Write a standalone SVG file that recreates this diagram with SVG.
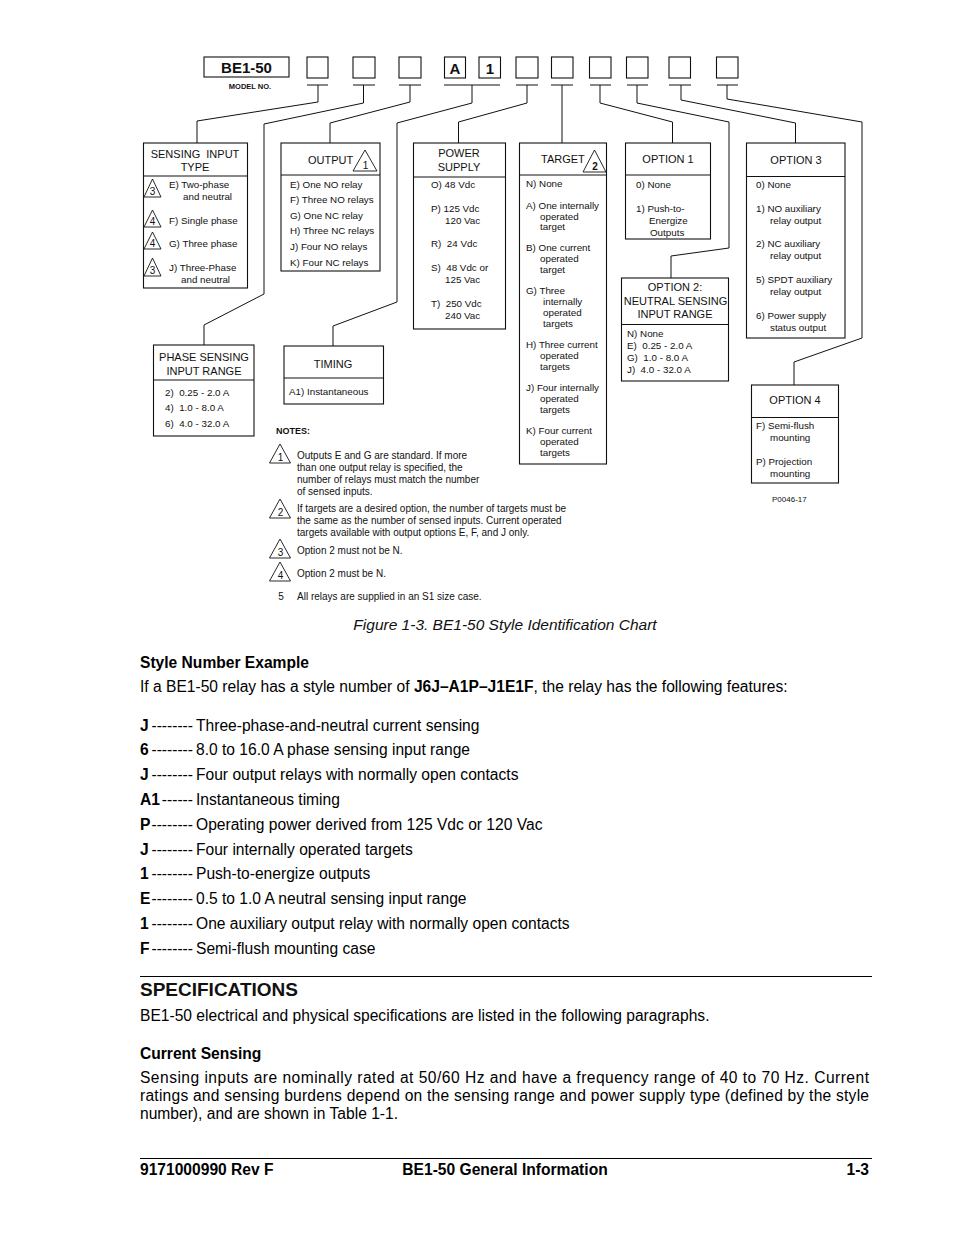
<svg xmlns="http://www.w3.org/2000/svg" width="954" height="1235" viewBox="0 0 954 1235">
<style>
text{font-family:"Liberation Sans",Arial,sans-serif;fill:#111;white-space:pre}
.box{fill:none;stroke:#111;stroke-width:1.1}
.ln{fill:none;stroke:#111;stroke-width:1}
.tri{fill:#fff;stroke:#111;stroke-width:0.9}
.h{font-size:11px;text-anchor:middle}
.i{font-size:9.8px}
.n{font-size:10px}
.tn{font-size:10px;text-anchor:middle}
.b{font-size:15.6px;fill:#000}
.bb{font-size:15.6px;font-weight:bold;fill:#000}
</style>
<rect width="954" height="1235" fill="#fff"/>

<g id="model">
<rect class="box" x="204" y="57" width="85" height="20"/>
<text x="246.5" y="73" font-size="15" font-weight="bold" text-anchor="middle">BE1-50</text>
<text x="250" y="89" font-size="7.5" font-weight="bold" text-anchor="middle">MODEL NO.</text>
<rect class="box" x="307" y="57" width="21" height="21"/>
<rect class="box" x="353" y="57" width="22" height="21"/>
<rect class="box" x="399" y="57" width="22" height="21"/>
<rect class="box" x="444.5" y="57" width="21" height="21"/>
<text x="455" y="74" font-size="15" font-weight="bold" text-anchor="middle">A</text>
<rect class="box" x="479" y="57" width="21.5" height="21"/>
<text x="490" y="74" font-size="15" font-weight="bold" text-anchor="middle">1</text>
<rect class="box" x="516" y="57" width="22" height="21"/>
<rect class="box" x="551.5" y="57" width="21.5" height="21"/>
<rect class="box" x="589.5" y="57" width="21.5" height="21"/>
<rect class="box" x="626.5" y="57" width="21.5" height="21"/>
<rect class="box" x="669" y="57" width="21.5" height="21"/>
<rect class="box" x="716.5" y="57" width="21.5" height="21"/>
</g>

<g id="connectors">
<path class="ln" d="M307,85H328M353,85H375M399,85H421M444,85H500M516,85H538M551,85H573M590,85H611M627,85H648M669,85H691M717,85H738"/>
<path class="ln" d="M318,85V102L197,121V143"/>
<path class="ln" d="M363.5,85V103L264,124V294L204,325V345"/>
<path class="ln" d="M410,85V102L330,123V143"/>
<path class="ln" d="M472,85V103L397,123V302L333,326V346"/>
<path class="ln" d="M527,85V103L458.5,122V143"/>
<path class="ln" d="M562,85V143"/>
<path class="ln" d="M600,85V103L672.5,122V143"/>
<path class="ln" d="M637,85V103L729,122V248L671,256V278"/>
<path class="ln" d="M681,85V100L795.5,123V143"/>
<path class="ln" d="M727,85V99L862,122V338L794,362V385"/>
</g>

<g id="sensing-input-type">
<rect class="box" x="143.5" y="143" width="104" height="145"/>
<line class="ln" x1="143.5" y1="176" x2="247.5" y2="176"/>
<text class="h" x="195" y="158">SENSING  INPUT</text>
<text class="h" x="195" y="171">TYPE</text>
<polygon class="tri" points="152.5,179 161,197 144,197"/>
<text class="tn" x="152.5" y="195">3</text>
<polygon class="tri" points="152.5,210 161,227 144,227"/>
<text class="tn" x="152.5" y="225">4</text>
<polygon class="tri" points="152.5,232 161,249 144,249"/>
<text class="tn" x="152.5" y="247">4</text>
<polygon class="tri" points="152.5,258 161,276 144,276"/>
<text class="tn" x="152.5" y="274">3</text>
<text class="i" x="169" y="187.5">E) Two-phase</text>
<text class="i" x="183" y="199.5">and neutral</text>
<text class="i" x="169" y="223.5">F) Single phase</text>
<text class="i" x="169" y="246.5">G) Three phase</text>
<text class="i" x="169" y="270.5">J) Three-Phase</text>
<text class="i" x="181" y="282.5">and neutral</text>
</g>

<g id="output">
<rect class="box" x="281" y="143" width="99" height="128"/>
<line class="ln" x1="281" y1="175" x2="380" y2="175"/>
<text x="308" y="164" font-size="11">OUTPUT</text>
<polygon class="tri" points="365,150 377,171 353,171"/>
<text class="tn" x="365.5" y="169">1</text>
<text class="i" x="290" y="187.5">E) One NO relay</text>
<text class="i" x="290" y="203">F) Three NO relays</text>
<text class="i" x="290" y="218.5">G) One NC relay</text>
<text class="i" x="290" y="234">H) Three NC relays</text>
<text class="i" x="290" y="249.5">J) Four NO relays</text>
<text class="i" x="290" y="265.5">K) Four NC relays</text>
</g>

<g id="power-supply">
<rect class="box" x="413.5" y="143" width="92" height="186"/>
<line class="ln" x1="413.5" y1="177" x2="505.5" y2="177"/>
<text class="h" x="459" y="157">POWER</text>
<text class="h" x="459" y="171">SUPPLY</text>
<text class="i" x="431" y="187.5">O) 48 Vdc</text>
<text class="i" x="431" y="211.5">P) 125 Vdc</text>
<text class="i" x="445" y="223.5">120 Vac</text>
<text class="i" x="431" y="246.5">R)  24 Vdc</text>
<text class="i" x="431" y="270.5">S)  48 Vdc or</text>
<text class="i" x="445" y="282.5">125 Vac</text>
<text class="i" x="431" y="306.5">T)  250 Vdc</text>
<text class="i" x="445" y="318.5">240 Vac</text>
</g>

<g id="target">
<rect class="box" x="519.5" y="143" width="87" height="321"/>
<line class="ln" x1="519.5" y1="175" x2="606.5" y2="175"/>
<text x="541" y="163" font-size="11">TARGET</text>
<polygon class="tri" points="594.5,150 606,172 583,172"/>
<text class="tn" x="595" y="170" font-weight="bold">2</text>
<text class="i" x="526" y="186.5">N) None</text>
<text class="i" x="526" y="208.5">A) One internally</text>
<text class="i" x="540" y="219.5">operated</text>
<text class="i" x="540" y="229.5">target</text>
<text class="i" x="526" y="250.5">B) One current</text>
<text class="i" x="540" y="261.5">operated</text>
<text class="i" x="540" y="272.5">target</text>
<text class="i" x="526" y="293.5">G) Three</text>
<text class="i" x="543" y="304.5">internally</text>
<text class="i" x="543" y="315.5">operated</text>
<text class="i" x="543" y="326.5">targets</text>
<text class="i" x="526" y="347.5">H) Three current</text>
<text class="i" x="540" y="358.5">operated</text>
<text class="i" x="540" y="369.5">targets</text>
<text class="i" x="526" y="390.5">J) Four internally</text>
<text class="i" x="540" y="401.5">operated</text>
<text class="i" x="540" y="412.5">targets</text>
<text class="i" x="526" y="433.5">K) Four current</text>
<text class="i" x="540" y="444.5">operated</text>
<text class="i" x="540" y="455.5">targets</text>
</g>

<g id="option1">
<rect class="box" x="625.5" y="143" width="85" height="96"/>
<line class="ln" x1="625.5" y1="175" x2="710.5" y2="175"/>
<text class="h" x="668" y="163">OPTION 1</text>
<text class="i" x="636" y="187.5">0) None</text>
<text class="i" x="636" y="211.5">1) Push-to-</text>
<text class="i" x="649" y="223.5">Energize</text>
<text class="i" x="650" y="235.5">Outputs</text>
</g>

<g id="option2">
<rect class="box" x="621.5" y="278" width="107" height="103"/>
<line class="ln" x1="621.5" y1="324.5" x2="728.5" y2="324.5"/>
<text class="h" x="675" y="291">OPTION 2:</text>
<text class="h" x="675.5" y="304.5" font-size="10.8">NEUTRAL SENSING</text>
<text class="h" x="675" y="318">INPUT RANGE</text>
<text class="i" x="627" y="336.5">N) None</text>
<text class="i" x="627" y="348.5">E)  0.25 - 2.0 A</text>
<text class="i" x="627" y="360.5">G)  1.0 - 8.0 A</text>
<text class="i" x="627" y="372.5">J)  4.0 - 32.0 A</text>
</g>

<g id="option3">
<rect class="box" x="746.5" y="143" width="98.5" height="195"/>
<line class="ln" x1="746.5" y1="176.5" x2="845" y2="176.5"/>
<text class="h" x="796" y="164">OPTION 3</text>
<text class="i" x="756" y="187.5">0) None</text>
<text class="i" x="756" y="211.5">1) NO auxiliary</text>
<text class="i" x="770" y="223.5">relay output</text>
<text class="i" x="756" y="246.5">2) NC auxiliary</text>
<text class="i" x="770" y="258.5">relay output</text>
<text class="i" x="756" y="282.5">5) SPDT auxiliary</text>
<text class="i" x="770" y="294.5">relay output</text>
<text class="i" x="756" y="318.5">6) Power supply</text>
<text class="i" x="770" y="330.5">status output</text>
</g>

<g id="option4">
<rect class="box" x="751.5" y="385" width="87" height="98"/>
<line class="ln" x1="751.5" y1="417.5" x2="838.5" y2="417.5"/>
<text class="h" x="795" y="404">OPTION 4</text>
<text class="i" x="756" y="428.5">F) Semi-flush</text>
<text class="i" x="770" y="440.5">mounting</text>
<text class="i" x="756" y="464.5">P) Projection</text>
<text class="i" x="770" y="476.5">mounting</text>
<text x="772" y="502" font-size="8">P0046-17</text>
</g>

<g id="phase-sensing-input-range">
<rect class="box" x="153.5" y="345" width="100.5" height="91"/>
<line class="ln" x1="153.5" y1="380" x2="254" y2="380"/>
<text class="h" x="204" y="361">PHASE SENSING</text>
<text class="h" x="204" y="375">INPUT RANGE</text>
<text class="i" x="165" y="395.5">2)  0.25 - 2.0 A</text>
<text class="i" x="165" y="410.5">4)  1.0 - 8.0 A</text>
<text class="i" x="165" y="426.5">6)  4.0 - 32.0 A</text>
</g>

<g id="timing">
<rect class="box" x="284" y="346" width="99.5" height="58"/>
<line class="ln" x1="284" y1="378" x2="383.5" y2="378"/>
<text class="h" x="333" y="368">TIMING</text>
<text class="i" x="289" y="394.5">A1) Instantaneous</text>
</g>

<g id="notes">
<text x="276" y="434" font-size="9" font-weight="bold">NOTES:</text>
<polygon class="tri" points="280,444 290.5,463 269.5,463"/>
<text class="tn" x="280.5" y="461">1</text>
<text class="n" x="297" y="458.5">Outputs E and G are standard. If more</text>
<text class="n" x="297" y="470.5">than one output relay is specified, the</text>
<text class="n" x="297" y="483">number of relays must match the number</text>
<text class="n" x="297" y="495">of sensed inputs.</text>
<polygon class="tri" points="280,499 290.5,518 269.5,518"/>
<text class="tn" x="280.5" y="516">2</text>
<text class="n" x="297" y="511.5">If targets are a desired option, the number of targets must be</text>
<text class="n" x="297" y="523.5">the same as the number of sensed inputs. Current operated</text>
<text class="n" x="297" y="535.5">targets available with output options E, F, and J only.</text>
<polygon class="tri" points="280,539 290.5,558 269.5,558"/>
<text class="tn" x="280.5" y="556">3</text>
<text class="n" x="297" y="553.5">Option 2 must not be N.</text>
<polygon class="tri" points="280,562 290.5,581 269.5,581"/>
<text class="tn" x="280.5" y="579">4</text>
<text class="n" x="297" y="576.5">Option 2 must be N.</text>
<text class="tn" x="281" y="599.5">5</text>
<text class="n" x="297" y="599.5">All relays are supplied in an S1 size case.</text>
</g>

<g id="page-text">
<text x="505" y="630" font-size="15.5" font-style="italic" text-anchor="middle" fill="#000">Figure 1-3. BE1-50 Style Identification Chart</text>
<text class="bb" x="140" y="668">Style Number Example</text>
<text class="b" x="140" y="692">If a BE1-50 relay has a style number of <tspan font-weight="bold">J6J–A1P–J1E1F</tspan>, the relay has the following features:</text>

<text class="bb" x="140" y="730.5">J</text><text class="b" x="193" y="730.5" text-anchor="end">--------</text><text class="b" x="196" y="730.5">Three-phase-and-neutral current sensing</text>
<text class="bb" x="140" y="754.5">6</text><text class="b" x="193" y="754.5" text-anchor="end">--------</text><text class="b" x="196" y="754.5">8.0 to 16.0 A phase sensing input range</text>
<text class="bb" x="140" y="779.5">J</text><text class="b" x="193" y="779.5" text-anchor="end">--------</text><text class="b" x="196" y="779.5">Four output relays with normally open contacts</text>
<text class="bb" x="140" y="804.5">A1</text><text class="b" x="193" y="804.5" text-anchor="end">------</text><text class="b" x="196" y="804.5">Instantaneous timing</text>
<text class="bb" x="140" y="829.5">P</text><text class="b" x="193" y="829.5" text-anchor="end">--------</text><text class="b" x="196" y="829.5">Operating power derived from 125 Vdc or 120 Vac</text>
<text class="bb" x="140" y="854.5">J</text><text class="b" x="193" y="854.5" text-anchor="end">--------</text><text class="b" x="196" y="854.5">Four internally operated targets</text>
<text class="bb" x="140" y="878.5">1</text><text class="b" x="193" y="878.5" text-anchor="end">--------</text><text class="b" x="196" y="878.5">Push-to-energize outputs</text>
<text class="bb" x="140" y="903.5">E</text><text class="b" x="193" y="903.5" text-anchor="end">--------</text><text class="b" x="196" y="903.5">0.5 to 1.0 A neutral sensing input range</text>
<text class="bb" x="140" y="928.5">1</text><text class="b" x="193" y="928.5" text-anchor="end">--------</text><text class="b" x="196" y="928.5">One auxiliary output relay with normally open contacts</text>
<text class="bb" x="140" y="953.5">F</text><text class="b" x="193" y="953.5" text-anchor="end">--------</text><text class="b" x="196" y="953.5">Semi-flush mounting case</text>

<line x1="140" y1="976.5" x2="872" y2="976.5" stroke="#000" stroke-width="1"/>
<text x="140" y="996" font-size="19" font-weight="bold" fill="#000">SPECIFICATIONS</text>
<text class="b" x="140" y="1020.5">BE1-50 electrical and physical specifications are listed in the following paragraphs.</text>
<text class="bb" x="140" y="1058.5">Current Sensing</text>
<text class="b" x="140" y="1082.5" textLength="729" lengthAdjust="spacing">Sensing inputs are nominally rated at 50/60 Hz and have a frequency range of 40 to 70 Hz. Current</text>
<text class="b" x="140" y="1100.5" textLength="729" lengthAdjust="spacing">ratings and sensing burdens depend on the sensing range and power supply type (defined by the style</text>
<text class="b" x="140" y="1118.5">number), and are shown in Table 1-1.</text>

<line x1="140" y1="1158.5" x2="872" y2="1158.5" stroke="#000" stroke-width="1"/>
<text class="bb" x="140" y="1174.5">9171000990 Rev F</text>
<text class="bb" x="505" y="1174.5" text-anchor="middle">BE1-50 General Information</text>
<text class="bb" x="869" y="1174.5" text-anchor="end">1-3</text>
</g>
</svg>
